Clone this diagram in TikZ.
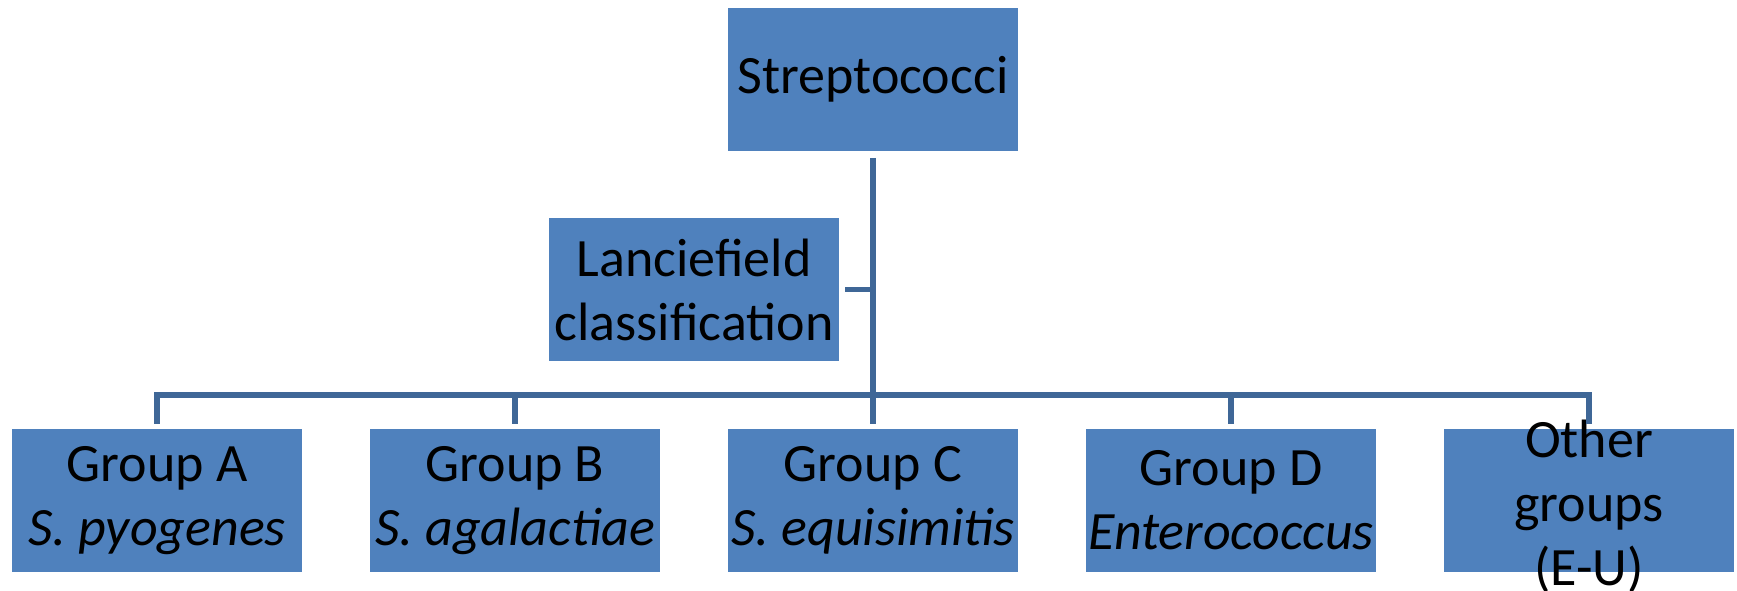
\documentclass[tikz,border=0pt]{standalone}
\usepackage{fontspec}
\setmainfont{Carlito}
\definecolor{boxblue}{HTML}{4F81BD}
\definecolor{linkblue}{HTML}{3F6797}
\newcommand{\boxfont}{\fontsize{27}{32}\selectfont}
\begin{document}
\begin{tikzpicture}[x=.5pt, y=-.5pt,
  box/.style={fill=boxblue, minimum width=145pt, minimum height=71.5pt, inner sep=0pt, align=center, font=\boxfont},
  link/.style={draw=linkblue, line width=2.8pt}]
\useasboundingbox (0,0) rectangle (1737,590);
\node[box] (strep) at (873,79) {Streptococci};
\node[box] (lance) at (694,289.5) {Lanciefield\\classification};
\node[box] (ga) at (157,500.5) {Group A\\\textit{S. pyogenes}};
\node[box] (gb) at (515,500.5) {Group B\\\textit{S. agalactiae}};
\node[box] (gc) at (873,500.5) {Group C\\\textit{S. equisimitis}};
\node[box] (gd) at (1231,500.5) {Group D\\\textit{Enterococcus}};
\node[box, label={[align=center, font=\boxfont, yshift=-3pt]center:Other\\groups\\(E-U)}] (go) at (1589,500.5) {};
\coordinate (bar) at (873,395);
% tree lines
\draw[link, shorten <=3.5pt, shorten >=2.5pt] (strep.south) -- (gc.north);
\draw[link, shorten <=3pt] (lance.east) -- (lance.east -| strep);
\draw[link, shorten <=2.5pt, shorten >=2.5pt] (ga.north) -- (ga |- bar) -- (go |- bar) -- (go.north);
\draw[link, shorten >=2.5pt] (gb |- bar) -- (gb.north);
\draw[link, shorten >=2.5pt] (gd |- bar) -- (gd.north);
\end{tikzpicture}
\end{document}
